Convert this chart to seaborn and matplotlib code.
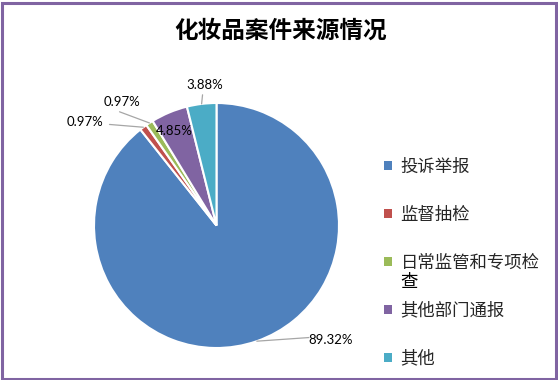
import numpy as np
import pandas as pd
import seaborn as sns
import matplotlib.pyplot as plt
from matplotlib.patches import Rectangle, Patch

categories = ['投诉举报', '监督抽检', '日常监管和专项检查', '其他部门通报', '其他']
shares = [89.32, 0.97, 0.97, 4.85, 3.88]
colours = ['#4F81BD', '#C0504D', '#9BBB59', '#8064A2', '#4BACC6']
title = '化妆品案件来源情况'

# where each percentage label sits (px in the 558x380 picture), and leader-line on/off
label_px = [(331, 340), (85, 122), (122, 102), (174, 131), (205, 85)]
leader = [True, True, True, False, True]

sns.set_theme(style='white')
plt.rcParams['font.family'] = ['Noto Sans CJK SC', 'DejaVu Sans']

W, H = 558, 380
fig = plt.figure(figsize=(W / 100, H / 100), dpi=100)
fig.patch.set_facecolor('white')

cx, cy, r = 216.5, 225.5, 122.5
ax = fig.add_axes([(cx - r) / W, 1 - (cy + r) / H, 2 * r / W, 2 * r / H])
palette = sns.color_palette(colours)

wedges, _ = ax.pie(shares, colors=palette, startangle=90, counterclock=False, radius=1,
                   wedgeprops=dict(edgecolor='white', linewidth=1.5))
ax.set_xlim(-1, 1)
ax.set_ylim(-1, 1)
ax.axis('off')


def px_to_data(px, py):
    return (px - cx) / r, (cy - py) / r


for w, pct, (px, py), has_line in zip(wedges, shares, label_px, leader):
    ang = np.deg2rad((w.theta1 + w.theta2) / 2)
    edge = (np.cos(ang), np.sin(ang))
    tx, ty = px_to_data(px, py)
    txt = '{:.2f}%'.format(pct)
    if has_line:
        # line ends at the near side of the label
        if tx > edge[0] + 0.3:
            end = (tx - 0.18, ty + 0.02)
        elif tx < edge[0] - 0.3:
            end = (tx + 0.2, ty - 0.02)
        else:
            end = (tx - 0.02, ty - 0.08)
        ax.plot([edge[0], end[0]], [edge[1], end[1]], color='#a6a6a6', lw=0.9,
                clip_on=False, zorder=3)
    ax.text(tx, ty, txt, ha='center', va='center', fontsize=9.5, family=['Lato', 'DejaVu Sans'],
            color='black', zorder=4)

fig.text(281 / W, 1 - 31 / H, title, ha='center', va='center', fontsize=17,
         fontweight='bold', color='black')

handles = [Patch(facecolor=c, edgecolor='none') for c in palette]
leg = fig.legend(handles, categories[:2] + ['日常监管和专项检'] + categories[3:],
                 loc='upper left', bbox_to_anchor=(384 / W, 1 - 158 / H),
                 frameon=False, fontsize=12.5, handlelength=0.45, handleheight=0.45,
                 handletextpad=0.5, labelspacing=1.72, borderaxespad=0, borderpad=0)

# the long label wraps onto a second line, as in the original legend
fig.canvas.draw()
bb = leg.get_texts()[2].get_window_extent()
fig.text(bb.x0 / W, (bb.y0 - 1) / H, categories[2][-1], va='top', ha='left',
         fontsize=12.5, color='black')

fig.add_artist(Rectangle((1.5 / W, 1.5 / H), 1 - 4 / W, 1 - 4 / H, transform=fig.transFigure,
                         fill=False, edgecolor='#8064A2', linewidth=2.2))

fig.savefig('out.png', dpi=100, facecolor='white')
